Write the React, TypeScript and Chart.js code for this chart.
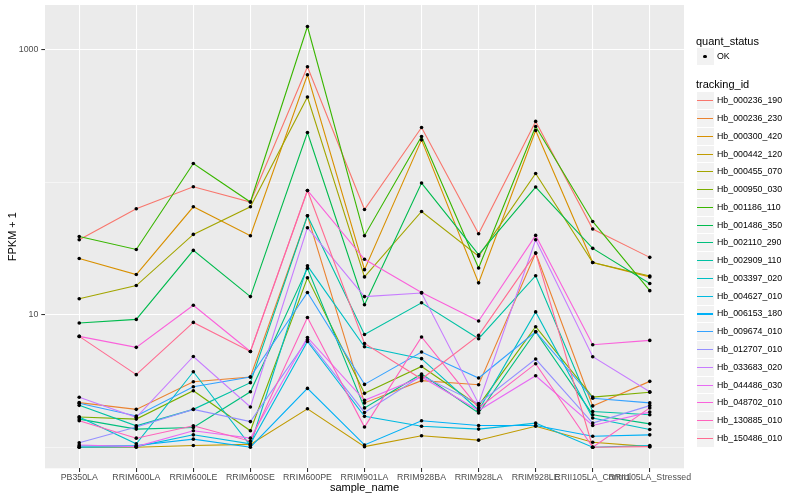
import React, { useEffect, useRef } from "react";
import { Chart, registerables } from "chart.js";

Chart.register(...registerables);

// ---------- data (FPKM + 1) ----------
const categories = [
  "PB350LA", "RRIM600LA", "RRIM600LE", "RRIM600SE", "RRIM600PE", "RRIM901LA",
  "RRIM928BA", "RRIM928LA", "RRIM928LE", "RRII105LA_Control", "RRII105LA_Stressed",
];

const trackingIds = [
  "Hb_000236_190", "Hb_000236_230", "Hb_000300_420", "Hb_000442_120", "Hb_000455_070",
  "Hb_000950_030", "Hb_001186_110", "Hb_001486_350", "Hb_002110_290", "Hb_002909_110",
  "Hb_003397_020", "Hb_004627_010", "Hb_006153_180", "Hb_009674_010", "Hb_012707_010",
  "Hb_033683_020", "Hb_044486_030", "Hb_048702_010", "Hb_130885_010", "Hb_150486_010",
];

const seriesColors = [
  "#F8766D", "#EA8331", "#D89000", "#C09B00", "#A3A500",
  "#7CAE00", "#39B600", "#00BB4E", "#00BF7D", "#00C1A3",
  "#00BFC4", "#00BAE0", "#00B0F6", "#35A2FF", "#9590FF",
  "#C77CFF", "#E76BF3", "#FA62DB", "#FF62BC", "#FF6C91",
];

const hb000236_190 = [36.8, 63.1, 92.5, 70.9, 744, 62.3, 259, 40.9, 288, 44.4, 27.1];
const hb000236_230 = [2.17, 1.93, 3.12, 3.39, 55.9, 2.16, 3.18, 2.96, 29.2, 2.05, 3.14];
const hb000300_420 = [26.6, 20.1, 65.3, 39.5, 648, 21.9, 209, 17.4, 246, 24.8, 19.3];
const hb000442_120 = [1.0, 1.0, 1.03, 1.05, 1.95, 1.01, 1.22, 1.13, 1.44, 1.09, 1.01];
const hb000455_070 = [13.2, 16.6, 40.4, 65.3, 440, 19.3, 60.2, 27.7, 116.5, 24.8, 19.6];
const hb000950_030 = [1.69, 1.63, 2.67, 1.33, 19.0, 2.55, 4.07, 2.06, 8.12, 2.39, 2.6];
const hb001186_110 = [39.0, 31.1, 138.7, 70.9, 1498, 39.5, 221.6, 22.5, 263.8, 50.6, 15.2];
const hb001486_350 = [8.66, 9.22, 30.6, 13.7, 237.6, 11.9, 98.6, 28.4, 92.0, 31.7, 17.2];
const hb002110_290 = [1.63, 1.37, 1.41, 2.62, 22.4, 1.98, 3.57, 1.81, 7.44, 1.76, 1.5];
const hb002909_110 = [2.07, 1.45, 1.93, 3.07, 55.9, 7.1, 12.3, 6.59, 19.7, 1.86, 1.76];
const hb003397_020 = [1.69, 1.06, 3.71, 1.03, 23.4, 5.73, 4.66, 1.9, 10.5, 1.66, 1.36];
const hb004627_010 = [1.0, 1.01, 1.24, 1.06, 6.29, 1.71, 1.44, 1.37, 1.52, 1.0, 1.03];
const hb006153_180 = [1.02, 1.03, 1.15, 1.0, 2.78, 1.04, 1.585, 1.46, 1.46, 1.21, 1.24];
const hb009674_010 = [2.15, 1.72, 2.86, 3.39, 14.7, 2.98, 5.23, 3.33, 7.44, 2.34, 2.16];
const hb012707_010 = [1.08, 1.42, 1.93, 1.56, 6.48, 1.83, 3.46, 2.13, 4.63, 1.52, 2.06];
const hb033683_020 = [2.38, 1.68, 4.84, 2.01, 45.4, 13.7, 14.6, 2.13, 36.8, 4.82, 2.62];
const hb044486_030 = [1.04, 1.01, 1.33, 1.17, 6.74, 2.26, 3.39, 1.89, 3.46, 1.46, 1.84];
const hb048702_010 = [6.86, 5.67, 11.8, 5.28, 86.7, 26.2, 14.7, 8.96, 39.7, 5.94, 6.4];
const hb130885_010 = [1.585, 1.17, 1.45, 1.11, 9.54, 1.42, 6.79, 1.98, 4.27, 1.0, 1.98];
const hb150486_010 = [6.86, 3.53, 8.75, 5.28, 86.7, 6.07, 3.27, 6.98, 29.2, 1.0, 1.01];

const seriesValues = [
  hb000236_190, hb000236_230, hb000300_420, hb000442_120, hb000455_070,
  hb000950_030, hb001186_110, hb001486_350, hb002110_290, hb002909_110,
  hb003397_020, hb004627_010, hb006153_180, hb009674_010, hb012707_010,
  hb033683_020, hb044486_030, hb048702_010, hb130885_010, hb150486_010,
];

const yGridValues = [1, 10, 100, 1000];
const yTickLabels = ["", "10", "", "1000"];

const FONT = '"Liberation Sans", Arial, Helvetica, sans-serif';

const panelBg = {
  id: "panelBg",
  beforeDraw(chart: any) {
    const { ctx, chartArea } = chart;
    ctx.save();
    ctx.fillStyle = "#EBEBEB";
    ctx.fillRect(chartArea.left, chartArea.top, chartArea.right - chartArea.left, chartArea.bottom - chartArea.top);
    ctx.restore();
  },
};

function LegendPanel() {
  const base: React.CSSProperties = { position: "absolute", fontFamily: FONT, whiteSpace: "nowrap", color: "#000" };
  const firstY = 100.7;
  const step = 17.77;
  return (
    <>
      <div style={{ ...base, left: 696, top: 33.5, fontSize: 11, lineHeight: "14px" }}>quant_status</div>
      <div style={{ ...base, left: 696.5, top: 48.2, width: 17, height: 17, background: "#F2F2F2" }}>
        <div style={{ position: "absolute", left: 6.7, top: 6.7, width: 3.6, height: 3.6, borderRadius: "50%", background: "#000" }} />
      </div>
      <div style={{ ...base, left: 717, top: 51, fontSize: 8.8, lineHeight: "11px" }}>OK</div>
      <div style={{ ...base, left: 696, top: 77, fontSize: 11, lineHeight: "14px" }}>tracking_id</div>
      {trackingIds.map((id, i) => {
        const cy = firstY + i * step;
        return (
          <React.Fragment key={id}>
            <div style={{ ...base, left: 696.5, top: cy - 8.4, width: 17, height: 16.8, background: "#F2F2F2" }}>
              <div style={{ position: "absolute", left: 0.8, right: 0.8, top: 7.9, height: 1.1, background: seriesColors[i] }} />
            </div>
            <div style={{ ...base, left: 717, top: cy - 5.5, fontSize: 8.8, lineHeight: "11px" }}>{id}</div>
          </React.Fragment>
        );
      })}
    </>
  );
}

export default function App() {
  const canvasRef = useRef<HTMLCanvasElement | null>(null);

  useEffect(() => {
    if (!canvasRef.current) return;
    const lineSets = seriesValues.map((vals, s) => ({
      label: trackingIds[s],
      data: vals.map((v, i) => ({ x: i, y: v })),
      borderColor: seriesColors[s],
      backgroundColor: seriesColors[s],
      borderWidth: 1.1,
      pointRadius: 0,
      fill: false,
      tension: 0,
      order: 20 - s,
    }));
    const pointSets = seriesValues.map((vals, s) => ({
      label: trackingIds[s] + " OK",
      data: vals.map((v, i) => ({ x: i, y: v })),
      showLine: false,
      borderColor: "#000000",
      backgroundColor: "#000000",
      pointRadius: 1.8,
      pointBorderWidth: 0,
      pointHoverRadius: 1.8,
      order: 0,
    }));

    const chart = new Chart(canvasRef.current, {
      type: "line",
      data: { datasets: [...lineSets, ...pointSets] as any },
      plugins: [panelBg],
      options: {
        animation: false,
        responsive: false,
        events: [],
        layout: { padding: { top: 5, right: 116, bottom: 0, left: 0 } },
        plugins: { legend: { display: false }, tooltip: { enabled: false } },
        scales: {
          x: {
            type: "linear",
            min: -0.6,
            max: 10.6,
            bounds: "data",
            afterBuildTicks: (scale: any) => {
              scale.ticks = categories.map((_, i) => ({ value: i }));
            },
            afterFit: (scale: any) => {
              scale.height = 31.7;
              scale.paddingLeft = 0;
              scale.paddingRight = 0;
            },
            grid: {
              color: "#FFFFFF",
              lineWidth: 1.07,
              drawTicks: true,
              tickLength: 3.7,
              tickColor: "#333333",
              tickWidth: 1.07,
            },
            border: { display: false },
            ticks: {
              autoSkip: false,
              maxRotation: 0,
              minRotation: 0,
              padding: 0.5,
              color: "#4D4D4D",
              font: { family: FONT, size: 8.8 },
              callback: (_v: any, idx: number) => categories[idx] ?? "",
            },
            title: {
              display: true,
              text: "sample_name",
              color: "#000000",
              font: { family: FONT, size: 11 },
              padding: { top: 0, bottom: 5.4 },
            },
          },
          y: {
            type: "logarithmic",
            min: 0.693,
            max: 2178,
            bounds: "data",
            afterBuildTicks: (scale: any) => {
              scale.ticks = yGridValues.map((v) => ({ value: v }));
            },
            afterFit: (scale: any) => {
              scale.width = 45;
              scale.paddingTop = 0;
              scale.paddingBottom = 0;
            },
            grid: {
              color: "#FFFFFF",
              lineWidth: (c: any) => (yTickLabels[c.index] ? 1.07 : 0.53),
              drawTicks: true,
              tickLength: 3.7,
              tickColor: (c: any) => (yTickLabels[c.index] ? "#333333" : "rgba(0,0,0,0)"),
              tickWidth: 1.07,
            },
            border: { display: false },
            ticks: {
              autoSkip: false,
              padding: 2.9,
              color: "#4D4D4D",
              font: { family: FONT, size: 8.8 },
              callback: (_v: any, idx: number) => yTickLabels[idx] ?? "",
            },
            title: {
              display: true,
              text: "FPKM + 1",
              color: "#000000",
              font: { family: FONT, size: 11 },
              padding: { top: 6.4, bottom: 0 },
            },
          },
        },
      } as any,
    });
    return () => chart.destroy();
  }, []);

  return (
    <div style={{ position: "fixed", left: 0, top: 0, width: 800, height: 500, background: "#FFFFFF" }}>
      <canvas ref={canvasRef} width={800} height={500} style={{ position: "absolute", left: 0, top: 0, width: 800, height: 500 }} />
      <LegendPanel />
    </div>
  );
}
